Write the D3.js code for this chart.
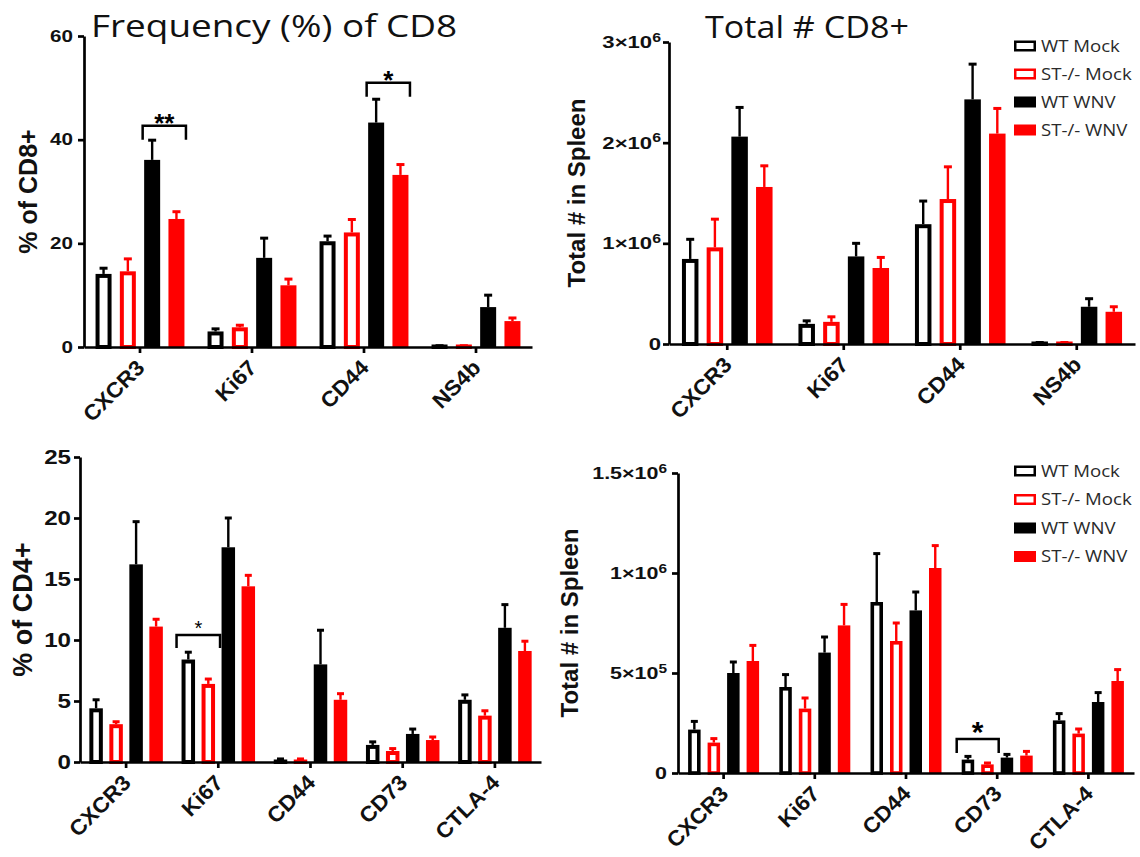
<!DOCTYPE html>
<html>
<head>
<meta charset="utf-8">
<script src="https://cdn.jsdelivr.net/npm/d3@7"></script>
<style>
  body { margin: 0; background: #fff; }
  svg { display: block; }
</style>
</head>
<body>
<svg id="fig" width="1140" height="857"></svg>
<script>
// ---- groups ----
const seriesNames = ["WT Mock", "ST-/- Mock", "WT WNV", "ST-/- WNV"];
const seriesColors = ["#000000", "#ff0000", "#000000", "#ff0000"];
const seriesFilled = [false, false, true, true];

// ---- markers ----
const cd8Markers = ["CXCR3", "Ki67", "CD44", "NS4b"];
const cd4Markers = ["CXCR3", "Ki67", "CD44", "CD73", "CTLA-4"];

// ---- CD8: % of CD8+ (rows = groups, columns = markers) ----
const cd8PctMean = [
  [14.1, 3.0, 20.4, 0.15],
  [14.6, 3.8, 22.1, 0.15],
  [36.1, 17.2, 43.3, 7.7],
  [24.7, 11.9, 33.2, 5.0]
];
const cd8PctSem = [
  [1.1, 0.5, 1.0, 0.1],
  [2.4, 0.4, 2.5, 0.1],
  [3.8, 3.8, 4.5, 2.3],
  [1.4, 1.2, 2.0, 0.6]
];

// ---- CD8: total number in spleen ----
const cd8CountMean = [
  [845000, 200000, 1190000, 10000],
  [960000, 220000, 1440000, 10000],
  [2060000, 870000, 2430000, 370000],
  [1560000, 755000, 2090000, 320000]
];
const cd8CountSem = [
  [195000, 30000, 230000, 5000],
  [280000, 50000, 320000, 5000],
  [290000, 130000, 350000, 80000],
  [210000, 105000, 250000, 50000]
];

// ---- CD4: % of CD4+ ----
const cd4PctMean = [
  [4.4, 8.4, 0.2, 1.4, 5.1],
  [3.1, 6.4, 0.2, 0.9, 3.8],
  [16.2, 17.6, 8.0, 2.3, 11.0],
  [11.1, 14.4, 5.1, 1.8, 9.1]
];
const cd4PctSem = [
  [0.7, 0.6, 0.05, 0.25, 0.4],
  [0.2, 0.4, 0.05, 0.2, 0.4],
  [3.5, 2.4, 2.8, 0.4, 1.9],
  [0.6, 0.9, 0.5, 0.25, 0.8]
];

// ---- CD4: total number in spleen ----
const cd4CountMean = [
  [217000, 430000, 855000, 67000, 263000],
  [152000, 322000, 660000, 43000, 197000],
  [500000, 602000, 813000, 77000, 355000],
  [560000, 738000, 1025000, 87000, 460000]
];
const cd4CountSem = [
  [41000, 62000, 242000, 16000, 34000],
  [20000, 53000, 90000, 7000, 23000],
  [55000, 78000, 92000, 16000, 47000],
  [78000, 105000, 112000, 21000, 57000]
];

// ---- y-axis ticks ----
const ticksCd8Pct = [0, 20, 40, 60];
const ticksCd8Count = [0, 1000000, 2000000, 3000000];
const ticksCd4Pct = [0, 5, 10, 15, 20, 25];
const ticksCd4Count = [0, 500000, 1000000, 1500000];

// ---- significance brackets ----
const sigPanel = ["cd8Pct", "cd8Pct", "cd4Pct", "cd4Count"];
const sigMarker = ["CXCR3", "CD44", "Ki67", "CD73"];
const sigFrom = [2, 2, 0, 0];
const sigTo = [3, 3, 1, 1];
const sigLevel = [42.7, 51, 10.4, 170000];
const sigLabel = ["**", "*", "*", "*"];

// ---- titles ----
const titleCd8Pct = "Frequency (%) of CD8";
const titleCd8Count = "Total # CD8+";

const svg = d3.select("#fig");
const TICK_FONT = "'Liberation Sans', Arial, Helvetica, sans-serif";
const TITLE_FONT = "'Open Sans', 'Noto Sans', sans-serif";

// stretch text horizontally along its direction
function stretch(sel, k) {
  sel.each(function () {
    const L = this.getComputedTextLength();
    if (L > 0) d3.select(this).attr("textLength", L * k).attr("lengthAdjust", "spacingAndGlyphs");
  });
}

function sciFormat(textSel) {
  textSel.each(function (d) {
    const t = d3.select(this);
    t.text(null);
    if (d === 0) { t.text("0"); return; }
    const e = Math.floor(Math.log10(d) + 1e-9);
    const m = +(d / Math.pow(10, e)).toFixed(2);
    t.append("tspan").text(m + "\u00d710");
    t.append("tspan").attr("dy", "-0.5em").attr("font-size", "0.72em").text(e);
  });
}

const panels = [
  { key: "cd8Pct", markers: cd8Markers, mean: cd8PctMean, sem: cd8PctSem, yMax: 60, ticks: ticksCd8Pct, sci: false,
    l: 84, r: 532, t: 36, b: 347, step: 24.3, barW: 16, outline: 4, cap: 8,
    tickFont: 16.5, tickStretch: 1.25, tickPad: 5,
    yTitle: "% of CD8+", yTitleSize: 25, yTitleX: 37,
    starSize: 26, starGap: 8, legLen: 14 },
  { key: "cd8Count", markers: cd8Markers, mean: cd8CountMean, sem: cd8CountSem, yMax: 3000000, ticks: ticksCd8Count, sci: true,
    l: 669, r: 1135, t: 42, b: 344, step: 24.7, barW: 16.5, outline: 4, cap: 8,
    tickFont: 17, tickStretch: 1.3, tickPad: 2,
    yTitle: "Total # in Spleen", yTitleSize: 24, yTitleX: 585,
    starSize: 26, starGap: 8, legLen: 14,
    legendY: 46, legendDy: 28 },
  { key: "cd4Pct", markers: cd4Markers, mean: cd4PctMean, sem: cd4PctSem, yMax: 25, ticks: ticksCd4Pct, sci: false,
    l: 80, r: 541, t: 457, b: 762, step: 20, barW: 13.5, outline: 4, cap: 7,
    tickFont: 21, tickStretch: 1.15, tickPad: 3,
    yTitle: "% of CD4+", yTitleSize: 27, yTitleX: 32,
    starSize: 20, starGap: 12, legLen: 13, starWeight: "normal" },
  { key: "cd4Count", markers: cd4Markers, mean: cd4CountMean, sem: cd4CountSem, yMax: 1500000, ticks: ticksCd4Count, sci: true,
    l: 678, r: 1134, t: 473, b: 773, step: 19.5, barW: 12.5, outline: 3.6, cap: 7,
    tickFont: 16.5, tickStretch: 1.3, tickPad: 5,
    yTitle: "Total # in Spleen", yTitleSize: 24, yTitleX: 578,
    starSize: 30, starGap: 14, legLen: 14,
    legendY: 471, legendDy: 28.5 }
];

function drawPanel(p) {
  const g = svg.append("g");
  const x0 = d3.scaleBand().domain(p.markers).range([p.l, p.r]);
  const bw = x0.bandwidth();
  const pad = 1 - p.barW / p.step;
  const x1 = d3.scaleBand().domain(d3.range(seriesNames.length))
    .range([bw / 2 - 2 * p.step, bw / 2 + 2 * p.step])
    .paddingInner(pad).paddingOuter(pad / 2);
  const y = d3.scaleLinear().domain([0, p.yMax]).range([p.b, p.t]);

  // bars and error bars
  seriesNames.forEach((name, i) => {
    const rows = p.markers.map((m, j) => ({ m, v: p.mean[i][j], e: p.sem[i][j] }));
    const col = seriesColors[i];
    const sg = g.append("g");
    const cx = d => x0(d.m) + x1(i) + x1.bandwidth() / 2;

    // error bars (upper only)
    sg.selectAll("line.err").data(rows).join("line")
      .attr("x1", cx).attr("x2", cx)
      .attr("y1", d => y(d.v)).attr("y2", d => y(d.v + d.e))
      .attr("stroke", col).attr("stroke-width", 2.4);
    sg.selectAll("line.cap").data(rows).join("line")
      .attr("x1", d => cx(d) - p.cap / 2).attr("x2", d => cx(d) + p.cap / 2)
      .attr("y1", d => y(d.v + d.e)).attr("y2", d => y(d.v + d.e))
      .attr("stroke", col).attr("stroke-width", 3);

    if (seriesFilled[i]) {
      sg.selectAll("rect").data(rows).join("rect")
        .attr("x", d => x0(d.m) + x1(i))
        .attr("width", x1.bandwidth())
        .attr("y", d => y(d.v))
        .attr("height", d => y(0) - y(d.v))
        .attr("fill", col);
    } else {
      const sw = p.outline;
      sg.selectAll("rect").data(rows).join("rect")
        .attr("x", d => x0(d.m) + x1(i) + sw / 2)
        .attr("width", x1.bandwidth() - sw)
        .attr("y", d => Math.min(y(d.v) + sw / 2, y(0) - 0.5))
        .attr("height", d => Math.max(0.5, y(0) - y(d.v) - sw / 2))
        .attr("fill", "#fff").attr("stroke", col).attr("stroke-width", sw);
    }
  });

  // y axis
  const yAxis = d3.axisLeft(y).tickValues(p.ticks).tickSize(6).tickSizeOuter(0).tickPadding(p.tickPad);
  if (!p.sci) yAxis.tickFormat(d3.format("d"));
  const ya = g.append("g").attr("transform", `translate(${p.l},0)`).call(yAxis);
  ya.select(".domain").attr("stroke", "#000").attr("stroke-width", 2.7);
  ya.selectAll(".tick line").attr("stroke", "#000").attr("stroke-width", 2.7);
  const yt = ya.selectAll(".tick text")
    .attr("font-family", TICK_FONT).attr("font-weight", "bold")
    .attr("font-size", p.tickFont).attr("fill", "#111");
  if (p.sci) sciFormat(yt);
  stretch(yt, p.tickStretch);
  ya.attr("font-size", null).attr("font-family", null);

  // x axis
  const xAxis = d3.axisBottom(x0).tickSize(6).tickSizeOuter(0);
  const xa = g.append("g").attr("transform", `translate(0,${p.b})`).call(xAxis);
  xa.select(".domain").attr("stroke", "#000").attr("stroke-width", 2.7);
  xa.selectAll(".tick line").attr("stroke", "#000").attr("stroke-width", 2.7);
  const xt = xa.selectAll(".tick text")
    .attr("font-family", TICK_FONT).attr("font-weight", "bold").attr("font-size", 21.5)
    .attr("fill", "#111")
    .attr("x", null).attr("y", null).attr("dy", null)
    .attr("text-anchor", "end")
    .attr("transform", "translate(6,22) rotate(-45)");
  stretch(xt, 1.05);
  xa.attr("font-size", null).attr("font-family", null);

  // y-axis title
  g.append("text")
    .attr("transform", `translate(${p.yTitleX},${(p.t + p.b) / 2}) rotate(-90)`)
    .attr("text-anchor", "middle")
    .attr("font-family", TICK_FONT).attr("font-weight", "bold")
    .attr("font-size", p.yTitleSize).attr("fill", "#111")
    .text(p.yTitle);

  // significance brackets
  sigPanel.forEach((pk, k) => {
    if (pk !== p.key) return;
    const m = sigMarker[k];
    const pad0 = p.key.startsWith("cd4") ? 5 : 1.5;
    const xa0 = x0(m) + x1(sigFrom[k]) - pad0;
    const xb0 = x0(m) + x1(sigTo[k]) + x1.bandwidth() + pad0;
    const yl = y(sigLevel[k]);
    g.append("path")
      .attr("d", `M${xa0},${yl + p.legLen}V${yl}H${xb0}V${yl + p.legLen}`)
      .attr("fill", "none").attr("stroke", "#000").attr("stroke-width", 2.5);
    g.append("text")
      .attr("x", (xa0 + xb0) / 2)
      .attr("y", yl - p.starGap + 0.57 * p.starSize)
      .attr("text-anchor", "middle")
      .attr("font-family", TICK_FONT).attr("font-weight", p.starWeight || "bold")
      .attr("font-size", p.starSize).attr("fill", "#000")
      .text(sigLabel[k]);
  });

  // legend
  if (p.legendY !== undefined) {
    const lg = g.append("g");
    seriesNames.forEach((name, i) => {
      const ry = p.legendY + i * p.legendDy;
      if (seriesFilled[i]) {
        lg.append("rect").attr("x", 1014).attr("y", ry - 5.5).attr("width", 22).attr("height", 11)
          .attr("fill", seriesColors[i]);
      } else {
        lg.append("rect").attr("x", 1015.25).attr("y", ry - 4.25).attr("width", 19.5).attr("height", 8.5)
          .attr("fill", "#fff").attr("stroke", seriesColors[i]).attr("stroke-width", 2.5);
      }
      const tx = lg.append("text").attr("x", 1041).attr("y", ry).attr("dy", "0.36em")
        .attr("font-family", TITLE_FONT).attr("font-size", 15.5).attr("fill", "#2a2a2a")
        .text(name);
      stretch(tx, 1.2);
    });
  }
}

panels.forEach(drawPanel);

// panel titles
const t1 = svg.append("text").attr("x", 91).attr("y", 37)
  .attr("font-family", TITLE_FONT).attr("font-size", 31).attr("fill", "#111")
  .text(titleCd8Pct);
stretch(t1, 1.19);
const t2 = svg.append("text").attr("x", 705).attr("y", 38)
  .attr("font-family", TITLE_FONT).attr("font-size", 31).attr("fill", "#111")
  .text(titleCd8Count);
stretch(t2, 1.1);
</script>
</body>
</html>
